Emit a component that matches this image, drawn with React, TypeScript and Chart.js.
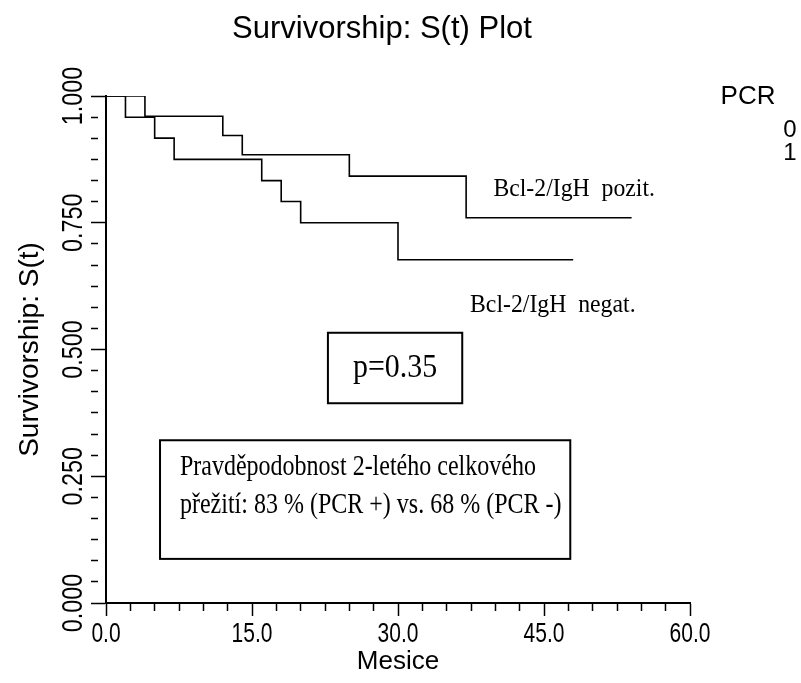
import React, { useEffect, useRef } from "react";
import { Chart, registerables } from "chart.js";

Chart.register(...registerables);

// ---- data ----
const negTimes = [0, 2, 5, 7, 16, 18, 20, 30, 48];
const negSurv = [1, 0.958, 0.917, 0.875, 0.833, 0.792, 0.75, 0.677, 0.677];
const posTimes = [0, 4, 12, 14, 25, 37, 54];
const posSurv = [1, 0.96, 0.922, 0.884, 0.842, 0.76, 0.76];

const xMajorTicks = [0, 15, 30, 45, 60];
const xMinorPerMajor = 6;
const yMajorTicks = [0, 0.25, 0.5, 0.75, 1.0];
const yMinorPerMajor = 6;

const chartTitle = "Survivorship: S(t) Plot";
const xTitle = "Mesice";
const yTitle = "Survivorship: S(t)";
const legendTitle = "PCR";
const legendLabels = ["0", "1"];
const seriesNames = ["Bcl-2/IgH  negat.", "Bcl-2/IgH  pozit."];
const pText = "p=0.35";
const boxLines = [
  "Pravděpodobnost 2-letého celkového",
  "přežití: 83 % (PCR +) vs. 68 % (PCR -)",
];

const SANS = "'Liberation Sans', Arial, sans-serif";
const SERIF = "'Liberation Serif', 'Times New Roman', serif";

function buildTicks(majors: number[], perMajor: number): number[] {
  const out: number[] = [];
  for (let i = 0; i < majors.length - 1; i++) {
    const a = majors[i];
    const step = (majors[i + 1] - a) / perMajor;
    for (let k = 0; k < perMajor; k++) out.push(a + k * step);
  }
  out.push(majors[majors.length - 1]);
  return out;
}

const isMajor = (v: number, majors: number[]) =>
  majors.some((m) => Math.abs(m - v) < 1e-9);

function txt(
  ctx: CanvasRenderingContext2D,
  s: string,
  x: number,
  y: number,
  font: string,
  align: CanvasTextAlign,
  sx = 1,
  rotate = false
) {
  ctx.save();
  ctx.translate(x, y);
  if (rotate) ctx.rotate(-Math.PI / 2);
  ctx.scale(sx, 1);
  ctx.font = font;
  ctx.textAlign = align;
  ctx.textBaseline = "middle";
  ctx.fillStyle = "#000";
  ctx.fillText(s, 0, 0);
  ctx.restore();
}

export default function App() {
  const ref = useRef<HTMLCanvasElement | null>(null);

  useEffect(() => {
    document.body.style.margin = "0";
    const canvas = ref.current!;

    const decorations = {
      id: "decorations",
      afterDraw(chart: any) {
        const ctx = chart.ctx as CanvasRenderingContext2D;
        const xs = chart.scales.x;
        const ys = chart.scales.y;
        const area = chart.chartArea;
        const px = (v: number) => xs.getPixelForValue(v);
        const py = (v: number) => ys.getPixelForValue(v);
        ctx.save();

        // title
        txt(ctx, chartTitle, 382, 29, `31px ${SANS}`, "center");

        // tick labels (x)
        xs.ticks.forEach((t: any) => {
          if (isMajor(t.value, xMajorTicks))
            txt(ctx, t.value.toFixed(1), px(t.value), area.bottom + 31, `28px ${SANS}`, "center", 0.75);
        });
        // tick labels (y), rotated
        ys.ticks.forEach((t: any) => {
          if (isMajor(t.value, yMajorTicks))
            txt(ctx, t.value.toFixed(3), area.left - 32, py(t.value), `30px ${SANS}`, "center", 0.78, true);
        });

        // axis titles
        txt(ctx, xTitle, (area.left + area.right) / 2, 662, `26px ${SANS}`, "center");
        txt(ctx, yTitle, 30, (area.top + area.bottom) / 2, `28px ${SANS}`, "center", 1, true);

        // legend
        txt(ctx, legendTitle, 748, 97, `26px ${SANS}`, "center");
        txt(ctx, legendLabels[0], 790, 130, `24px ${SANS}`, "center");
        txt(ctx, legendLabels[1], 790, 153, `24px ${SANS}`, "center");

        // series labels
        txt(ctx, seriesNames[1], px(39.8), py(0.815), `25px ${SERIF}`, "left", 0.95);
        txt(ctx, seriesNames[0], px(37.4), py(0.586), `25px ${SERIF}`, "left", 0.95);

        // p box
        ctx.strokeStyle = "#000";
        ctx.lineWidth = 2;
        const pl = px(22.8), pr = px(36.6), pt = py(0.533), pb = py(0.394);
        ctx.strokeRect(pl, pt, pr - pl, pb - pt);
        txt(ctx, pText, (pl + pr) / 2, (pt + pb) / 2, `34px ${SERIF}`, "center", 0.88);

        // summary box
        const bl = px(5.55), br = px(47.7), bt = py(0.321), bb = py(0.087);
        ctx.strokeRect(bl, bt, br - bl, bb - bt);
        txt(ctx, boxLines[0], px(7.6), py(0.268), `30px ${SERIF}`, "left", 0.8);
        txt(ctx, boxLines[1], px(7.6), py(0.193), `30px ${SERIF}`, "left", 0.8);
        ctx.restore();
      },
    };

    const chart = new Chart(canvas, {
      type: "line",
      data: {
        datasets: [
          {
            label: legendLabels[0],
            data: negTimes.map((t, i) => ({ x: t, y: negSurv[i] })),
            borderColor: "#000",
            borderWidth: 1.6,
            pointRadius: 0,
            stepped: true,
            fill: false,
          },
          {
            label: legendLabels[1],
            data: posTimes.map((t, i) => ({ x: t, y: posSurv[i] })),
            borderColor: "#000",
            borderWidth: 1.6,
            pointRadius: 0,
            stepped: true,
            fill: false,
          },
        ],
      },
      options: {
        responsive: false,
        animation: false,
        layout: { padding: { left: 0, right: 111, top: 96, bottom: 0 } },
        plugins: {
          legend: { display: false },
          tooltip: { enabled: false },
          title: { display: false },
        },
        scales: {
          x: {
            type: "linear",
            min: 0,
            max: 60,
            afterBuildTicks: (s: any) => {
              s.ticks = buildTicks(xMajorTicks, xMinorPerMajor).map((v) => ({ value: v }));
            },
            afterFit: (s: any) => {
              s.height = 80;
            },
            ticks: { display: false, autoSkip: false },
            grid: {
              drawOnChartArea: false,
              drawTicks: true,
              tickLength: 13,
              tickColor: "#000",
              tickWidth: 1.5,
              tickBorderDash: (c: any) => (isMajor(c.tick.value, xMajorTicks) ? [] : [7, 100]),
            },
            border: { display: true, color: "#000", width: 2 },
          },
          y: {
            type: "linear",
            min: 0,
            max: 1,
            afterBuildTicks: (s: any) => {
              s.ticks = buildTicks(yMajorTicks, yMinorPerMajor).map((v) => ({ value: v }));
            },
            afterFit: (s: any) => {
              s.width = 106;
            },
            ticks: { display: false, autoSkip: false },
            grid: {
              drawOnChartArea: false,
              drawTicks: true,
              tickLength: 15,
              tickColor: "#000",
              tickWidth: 1.5,
              tickBorderDash: (c: any) => (isMajor(c.tick.value, yMajorTicks) ? [] : [7, 100]),
            },
            border: { display: true, color: "#000", width: 2 },
          },
        },
      },
      plugins: [decorations],
    } as any);

    return () => chart.destroy();
  }, []);

  return (
    <div style={{ width: 801, height: 683, background: "#fff" }}>
      <canvas ref={ref} width={801} height={683} style={{ display: "block" }} />
    </div>
  );
}
